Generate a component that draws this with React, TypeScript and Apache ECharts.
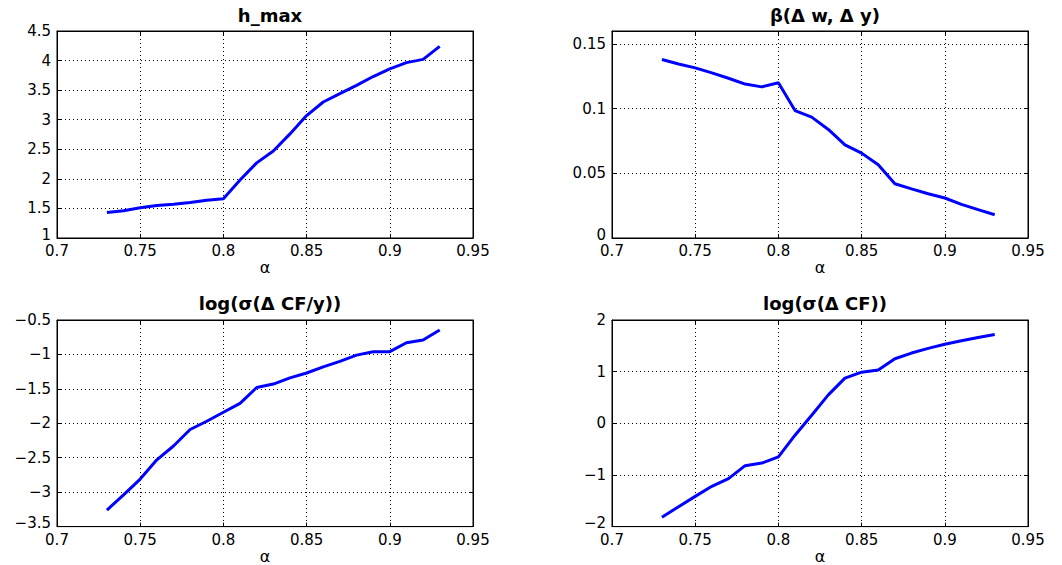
import React, { useEffect, useRef } from "react";
import * as echarts from "echarts";

const alpha = [0.73, 0.74, 0.75, 0.76, 0.77, 0.78, 0.79, 0.8, 0.81, 0.82, 0.83, 0.84, 0.85, 0.86, 0.87, 0.88, 0.89, 0.9, 0.91, 0.92, 0.93];

const hMax = [1.43, 1.46, 1.51, 1.55, 1.57, 1.6, 1.64, 1.665, 1.98, 2.27, 2.47, 2.76, 3.07, 3.3, 3.44, 3.58, 3.73, 3.86, 3.965, 4.02, 4.24];
const betaWY = [0.138, 0.1345, 0.1315, 0.1276, 0.1235, 0.119, 0.1168, 0.12, 0.0985, 0.0934, 0.0839, 0.072, 0.0656, 0.0566, 0.0419, 0.038, 0.0342, 0.0309, 0.026, 0.0219, 0.018];
const logSigmaCFy = [-3.26, -3.04, -2.81, -2.53, -2.33, -2.09, -1.97, -1.84, -1.71, -1.48, -1.43, -1.34, -1.27, -1.18, -1.1, -1.01, -0.96, -0.96, -0.83, -0.79, -0.645];
const logSigmaCF = [-1.82, -1.614, -1.415, -1.22, -1.07, -0.82, -0.77, -0.65, -0.23, 0.155, 0.55, 0.875, 0.99, 1.03, 1.25, 1.36, 1.45, 1.53, 1.6, 1.66, 1.72];

const titles = ["h_max", "β(Δ w, Δ y)", "log(σ(Δ CF/y))", "log(σ(Δ CF))"];
const xName = "α";
const xRange = { min: 0.7, max: 0.95, interval: 0.05 };
const yRanges = [
  { min: 1, max: 4.5, interval: 0.5 },
  { min: 0, max: 0.16, interval: 0.05 },
  { min: -3.5, max: -0.5, interval: 0.5 },
  { min: -2, max: 2, interval: 1 },
];
const seriesValues = [hMax, betaWY, logSigmaCFy, logSigmaCF];

const FONT = "DejaVu Sans";

export default function App() {
  const ref = useRef<HTMLDivElement>(null);
  useEffect(() => {
    if (!ref.current) return;
    const chart = echarts.init(ref.current, null, { renderer: "svg" });
    const grids = [
      { left: 57, top: 31, width: 416, height: 207 },
      { left: 612, top: 31, width: 416, height: 207 },
      { left: 57, top: 320, width: 416, height: 207 },
      { left: 612, top: 320, width: 416, height: 207 },
    ];
    const fmt = (v: number) => String(Number(v.toFixed(4))).replace("-", "\u2212");
    const xAxes: any[] = [];
    const yAxes: any[] = [];
    const series: any[] = [];
    const titleOpts: any[] = [];
    grids.forEach((g, i) => {
      const yMin = yRanges[i].min;
      xAxes.push({
        type: "value",
        gridIndex: i,
        position: "bottom",
        ...xRange,
        name: xName,
        nameLocation: "middle",
        nameGap: 20,
        nameTextStyle: { color: "#000", fontSize: 16, fontFamily: FONT },
        axisLine: { show: true, onZero: false, lineStyle: { color: "#000", width: 1 } },
        axisTick: { show: true, inside: true, length: 4, lineStyle: { color: "#000" } },
        axisLabel: { color: "#000", fontSize: 15, lineHeight: 12, fontFamily: FONT, margin: 7, formatter: fmt },
        splitLine: { show: true, lineStyle: { color: "#000", width: 1, type: [1, 3] } },
      });
      xAxes.push({
        type: "value",
        gridIndex: i,
        position: "top",
        ...xRange,
        axisLine: { show: true, onZero: false, lineStyle: { color: "#000", width: 1 } },
        axisTick: { show: true, inside: true, length: 4, lineStyle: { color: "#000" } },
        axisLabel: { show: false },
        splitLine: { show: false },
      });
      yAxes.push({
        type: "value",
        gridIndex: i,
        position: "left",
        ...yRanges[i],
        axisLine: { show: true, onZero: false, lineStyle: { color: "#000", width: 1 } },
        axisTick: { show: true, inside: true, length: 4, lineStyle: { color: "#000" } },
        axisLabel: {
          color: "#000",
          fontSize: 15,
          lineHeight: 12,
          fontFamily: FONT,
          margin: 6,
          showMaxLabel: i !== 1,
          formatter: (v: number) => (Math.abs(v - yMin) < 1e-9 ? `{lo|${fmt(v)}}` : fmt(v)),
          rich: {
            lo: { color: "#000", fontSize: 15, lineHeight: 12, fontFamily: FONT, padding: [0, 0, 7, 0] },
          },
        },
        splitLine: { show: true, lineStyle: { color: "#000", width: 1, type: [1, 3] } },
      });
      yAxes.push({
        type: "value",
        gridIndex: i,
        position: "right",
        ...yRanges[i],
        axisLine: { show: true, onZero: false, lineStyle: { color: "#000", width: 1 } },
        axisTick: { show: true, inside: true, length: 4, lineStyle: { color: "#000" } },
        axisLabel: { show: false },
        splitLine: { show: false },
      });
      series.push({
        type: "line",
        xAxisIndex: i * 2,
        yAxisIndex: i * 2,
        data: alpha.map((a, k) => [a, seriesValues[i][k]]),
        showSymbol: false,
        symbol: "none",
        lineStyle: { color: "#0000ff", width: 3 },
        itemStyle: { color: "#0000ff" },
      });
      titleOpts.push({
        text: titles[i],
        left: g.left + g.width / 2,
        top: i < 2 ? 1 : 289,
        textAlign: "center",
        textStyle: { color: "#000", fontSize: 18, fontWeight: "bold", fontFamily: FONT },
      });
    });
    chart.setOption({
      animation: false,
      backgroundColor: "#fff",
      title: titleOpts,
      grid: grids.map((g) => ({ ...g, show: true, borderColor: "#000", borderWidth: 1, backgroundColor: "#fff" })),
      xAxis: xAxes,
      yAxis: yAxes,
      series,
    });
    return () => chart.dispose();
  }, []);
  return (
    <div
      ref={ref}
      style={{ position: "fixed", left: 0, top: 0, width: 1062, height: 565, background: "#fff" }}
    />
  );
}
